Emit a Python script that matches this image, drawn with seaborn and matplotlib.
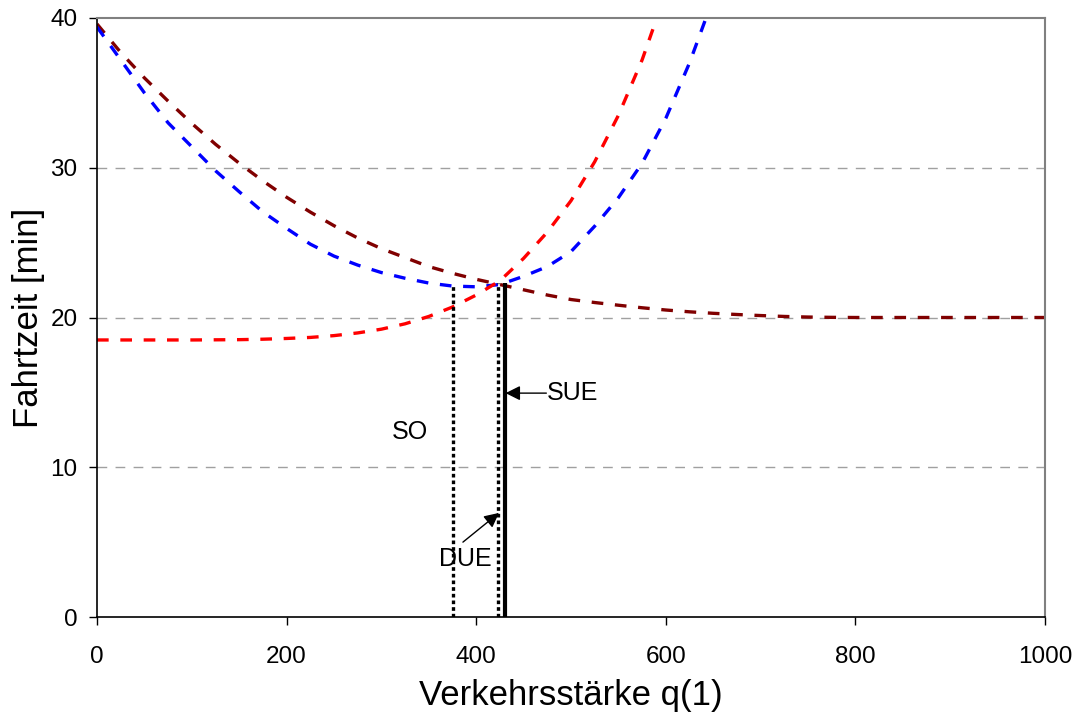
import matplotlib
matplotlib.use("Agg")
import matplotlib.pyplot as plt
import seaborn as sns
import pandas as pd

# ---- data ----
q_red = [0, 25, 50, 75, 100, 125, 150, 175, 200, 225, 250, 275, 300, 325, 350,
         375, 400, 425, 450, 475, 500, 525, 550, 575, 600]
t_red = [18.5, 18.5, 18.5, 18.5, 18.5, 18.51, 18.52, 18.55, 18.6, 18.67, 18.79, 18.97, 19.22, 19.58, 20.07,
         20.7, 21.5, 22.45, 23.95, 25.7, 27.8, 30.4, 33.5, 37.2, 41.7]

q_blue = [0, 25, 50, 75, 100, 125, 150, 175, 200, 225, 250, 275, 300, 325, 350,
          375, 400, 425, 450, 475, 500, 525, 550, 575, 600, 625, 650]
t_blue = [39.4, 37.2, 35.0, 33.0, 31.4, 29.8, 28.4, 27.05, 25.95, 24.9, 24.1, 23.5, 23.0, 22.62, 22.3,
          22.1, 22.05, 22.2, 22.75, 23.4, 24.4, 26.1, 28.0, 30.3, 33.3, 37.0, 41.3]

q_brown = [0, 25, 50, 75, 100, 125, 150, 175, 200, 225, 250, 275, 300, 325, 350,
           375, 400, 425, 450, 475, 500, 525, 550, 575, 600, 625, 650, 675, 700,
           725, 750, 775, 800, 825, 850, 875, 900, 925, 950, 975, 1000]
t_brown = [39.6, 37.7, 36.0, 34.45, 32.96, 31.57, 30.3, 29.12, 28.03, 27.04, 26.13, 25.31, 24.6, 24.0, 23.4,
           22.95, 22.55, 22.2, 21.85, 21.5, 21.2, 21.0, 20.82, 20.65, 20.5, 20.38, 20.28, 20.2, 20.13,
           20.07, 20.03, 20.01, 20.0, 20.0, 20.0, 20.0, 20.0, 20.0, 20.0, 20.0, 20.0]

# vertical markers: name, q, top travel time
mark_names = ["SO", "DUE", "SUE"]
mark_q = [375, 423, 430]
mark_top = [22.15, 22.3, 22.3]

x_ticks = [0, 200, 400, 600, 800, 1000]
y_ticks = [0, 10, 20, 30, 40]

# ---- plotting ----
sns.set_theme(style="white")
plt.rcParams["font.family"] = ["Liberation Sans", "DejaVu Sans"]
plt.rcParams["text.color"] = "black"
plt.rcParams["axes.labelcolor"] = "black"
plt.rcParams["xtick.color"] = "black"
plt.rcParams["ytick.color"] = "black"

fig = plt.figure(figsize=(10.81, 7.19), dpi=100)
ax = fig.add_axes([97 / 1081, 1 - 617 / 719, (1045 - 97) / 1081, (617 - 18) / 719])

df_red = pd.DataFrame({"q": q_red, "t": t_red})
df_blue = pd.DataFrame({"q": q_blue, "t": t_blue})
df_brown = pd.DataFrame({"q": q_brown, "t": t_brown})

for y in [10, 20, 30]:
    ax.axhline(y, color="#a0a0a0", lw=1.0, ls=(0, (7, 6)), zorder=0)

lw = 2.4
sns.lineplot(data=df_brown, x="q", y="t", ax=ax, color="#800000", lw=lw,
             dashes=False, estimator=None, sort=False)
sns.lineplot(data=df_blue, x="q", y="t", ax=ax, color="#0000ff", lw=lw,
             dashes=False, estimator=None, sort=False)
sns.lineplot(data=df_red, x="q", y="t", ax=ax, color="#ff0000", lw=lw,
             dashes=False, estimator=None, sort=False)
for line in ax.lines[3:]:
    line.set_linestyle((0, (3.5, 3.5)))
    line.set_dash_capstyle("butt")

# vertical lines
for name, qv, top in zip(mark_names, mark_q, mark_top):
    if name == "SUE":
        ax.vlines(qv, 0, top, color="black", lw=3.0, zorder=5)
    else:
        ax.vlines(qv, 0, top, color="black", lw=2.4, linestyles=[(0, (1.1, 0.9))], zorder=5)

# annotations
fs_ann = 18
ax.text(330, 12.35, "SO", fontsize=fs_ann, ha="center", va="center", color="black")
ax.text(474, 14.95, "SUE", fontsize=fs_ann, ha="left", va="center", color="black")
ax.annotate("", xy=(431, 14.95), xytext=(474, 14.95),
            arrowprops=dict(arrowstyle="-|>", color="black", lw=1.0,
                            mutation_scale=22, shrinkA=0, shrinkB=0))
ax.text(389, 3.9, "DUE", fontsize=fs_ann, ha="center", va="center", color="black")
ax.annotate("", xy=(424, 6.95), xytext=(386, 5.0),
            arrowprops=dict(arrowstyle="-|>", color="black", lw=1.0,
                            mutation_scale=22, shrinkA=0, shrinkB=0))

ax.set_xlim(0, 1000)
ax.set_ylim(0, 40)
ax.set_xticks(x_ticks)
ax.set_yticks(y_ticks)
ax.tick_params(axis="both", which="both", direction="out", length=6, width=1,
               color="black", labelcolor="black", labelsize=17.5, bottom=True, left=True)
ax.tick_params(axis="x", pad=15)
ax.tick_params(axis="y", pad=8)

for side in ["top", "right"]:
    ax.spines[side].set_color("#808080")
    ax.spines[side].set_linewidth(1.5)
for side in ["left", "bottom"]:
    ax.spines[side].set_color("black")
    ax.spines[side].set_linewidth(1.2)

ax.set_xlabel("Verkehrsstärke q(1)", fontsize=25, labelpad=8, color="black")
ax.set_ylabel("Fahrtzeit [min]", fontsize=25, labelpad=4, color="black")
ax.grid(False)

fig.savefig("out.png", dpi=100)
